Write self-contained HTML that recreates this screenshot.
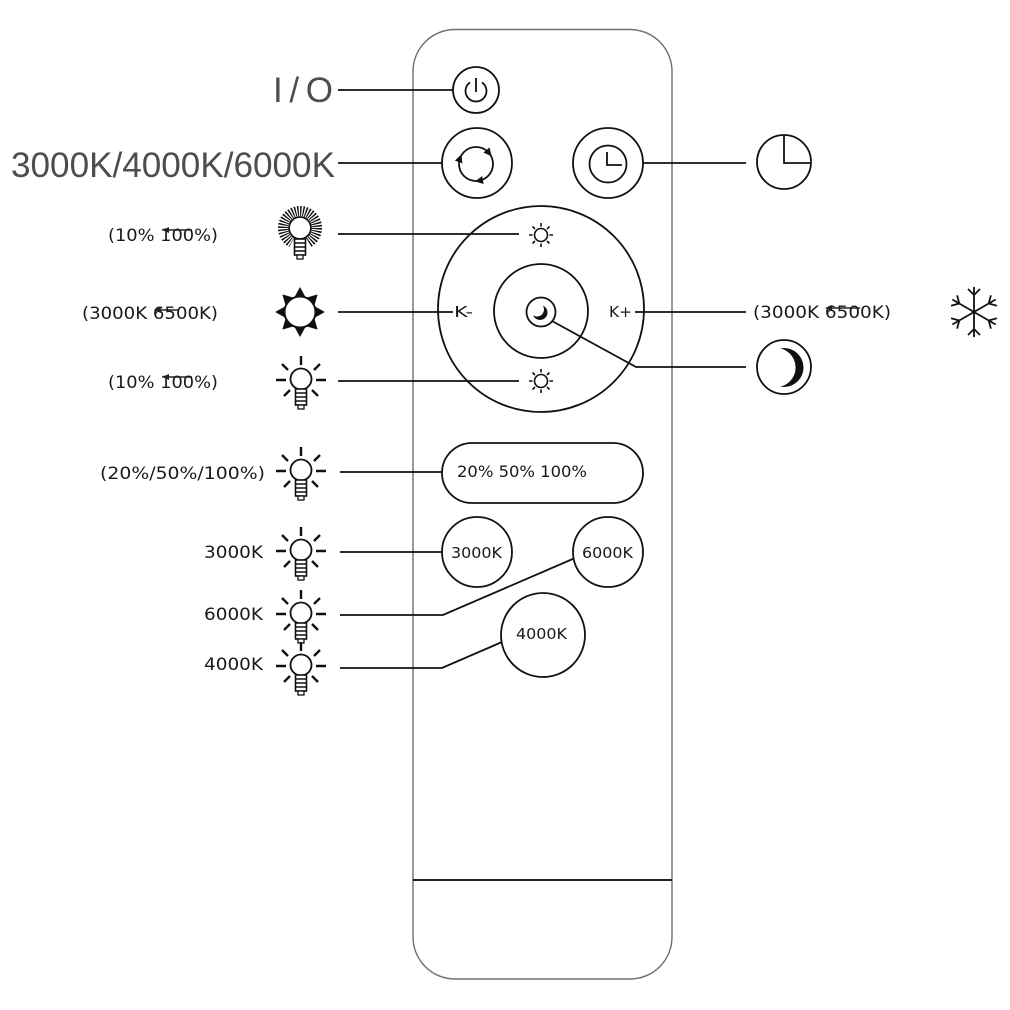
<!DOCTYPE html>
<html><head><meta charset="utf-8"><style>html,body{margin:0;padding:0;background:#fff}svg{display:block}</style></head>
<body>
<svg width="1010" height="1010" viewBox="0 0 1010 1010" xmlns="http://www.w3.org/2000/svg">
<defs>
  <g id="bulb">
    <circle r="10.5" fill="#fff" stroke="#111" stroke-width="1.8"/>
    <path d="M0,-23V-14 M-25,1H-15 M15,1H25 M-19,-15L-13,-9 M13,-9L19,-15 M-17,17L-11,11 M11,11L17,17" stroke="#111" stroke-width="2.4" fill="none"/>
    <rect x="-5.5" y="10" width="11" height="16" fill="#fff" stroke="#111" stroke-width="1.6"/>
    <path d="M-5.5,14H5.5 M-5.5,18H5.5 M-5.5,22H5.5" stroke="#111" stroke-width="1.4"/>
    <rect x="-3" y="26" width="6" height="4" fill="#fff" stroke="#111" stroke-width="1.3"/>
  </g>
  <g id="sunsm">
    <circle r="6.5" fill="none" stroke="#111" stroke-width="1.6"/>
    <path d="M8.5,0H12 M-8.5,0H-12 M0,8.5V12 M0,-8.5V-12 M6,6L8.5,8.5 M-6,6L-8.5,8.5 M6,-6L8.5,-8.5 M-6,-6L-8.5,-8.5" stroke="#111" stroke-width="1.6"/>
  </g>
  <polygon id="tri" points="0,-25 -6,-14 6,-14" fill="#111"/>
  <polygon id="ah" points="13,-4 21,-4 17,4" fill="#111"/>
  <g id="arm">
    <path d="M0,0V-25 M0,-17L-6,-23 M0,-17L6,-23" stroke="#111" stroke-width="1.8" fill="none"/>
  </g>
</defs>
<rect width="1010" height="1010" fill="#fff"/>

<!-- remote body -->
<rect x="413" y="29.5" width="259" height="949.5" rx="42" fill="none" stroke="#6e6e6e" stroke-width="1.4"/>
<line x1="413" y1="880" x2="672" y2="880" stroke="#222" stroke-width="2"/>

<!-- connectors -->
<path d="M338 90H453 M338 163H442 M643 163H746 M338 234H519 M338 312H453 M635 312H746 M552 321L636 367H746 M338 381H519 M340 472H442 M340 552H442 M340 615H443L575 558 M340 668H442L502 642" fill="none" stroke="#111" stroke-width="1.8"/>

<!-- buttons -->
<g fill="none" stroke="#111" stroke-width="1.8">
  <circle cx="476" cy="90" r="23"/>
  <circle cx="477" cy="163" r="35"/>
  <circle cx="608" cy="163" r="35"/>
  <circle cx="541" cy="309" r="103"/>
  <circle cx="541" cy="311" r="47"/>
  <rect x="442" y="443" width="201" height="60" rx="30" fill="#fff"/>
  <circle cx="477" cy="552" r="35" fill="#fff"/>
  <circle cx="608" cy="552" r="35" fill="#fff"/>
  <circle cx="543" cy="635" r="42" fill="#fff"/>
</g>

<!-- power icon -->
<path d="M470,82.4 A10.5,10.5 0 1 0 482,82.4" fill="none" stroke="#111" stroke-width="1.8"/>
<line x1="476" y1="78" x2="476" y2="92" stroke="#111" stroke-width="1.8"/>

<!-- cycle icon -->
<g transform="translate(476,164)">
  <circle r="17" fill="none" stroke="#111" stroke-width="1.8"/>
  <use href="#ah" transform="rotate(80)"/>
  <use href="#ah" transform="rotate(200)"/>
  <use href="#ah" transform="rotate(320)"/>
</g>

<!-- timer button icon -->
<circle cx="608" cy="164" r="18.5" fill="none" stroke="#111" stroke-width="1.8"/>
<path d="M607,152V165H622" fill="none" stroke="#111" stroke-width="1.8"/>

<!-- right clock -->
<circle cx="784" cy="162" r="27" fill="none" stroke="#111" stroke-width="1.8"/>
<path d="M784,135V163H810" fill="none" stroke="#111" stroke-width="1.8"/>

<!-- sun icons in big circle -->
<use href="#sunsm" x="541" y="235"/>
<use href="#sunsm" x="541" y="381"/>

<!-- small moon button -->
<circle cx="540" cy="312.5" r="7.5" fill="#111"/>
<circle cx="537" cy="309.5" r="7" fill="#fff"/>
<circle cx="541" cy="312" r="14.5" fill="none" stroke="#111" stroke-width="1.8"/>

<!-- big moon -->
<circle cx="784" cy="367.5" r="19.5" fill="#111"/>
<circle cx="776" cy="367.5" r="19.6" fill="#fff"/>
<circle cx="784" cy="367" r="27" fill="none" stroke="#111" stroke-width="1.8"/>

<!-- snowflake -->
<g transform="translate(974,312)">
  <use href="#arm"/>
  <use href="#arm" transform="rotate(60)"/>
  <use href="#arm" transform="rotate(120)"/>
  <use href="#arm" transform="rotate(180)"/>
  <use href="#arm" transform="rotate(240)"/>
  <use href="#arm" transform="rotate(300)"/>
</g>

<!-- rays bulb -->
<g transform="translate(300,228)">
  <circle r="17" fill="none" stroke="#111" stroke-width="10" stroke-dasharray="1.35 1.32"/>
  <polygon points="0,0 -15,26 15,26" fill="#fff"/>
  <circle r="11" fill="#fff" stroke="#111" stroke-width="1.8"/>
  <rect x="-5.5" y="11" width="11" height="16" fill="#fff" stroke="#111" stroke-width="1.6"/>
  <path d="M-5.5,15H5.5 M-5.5,19H5.5 M-5.5,23H5.5" stroke="#111" stroke-width="1.4"/>
  <rect x="-3" y="27" width="6" height="4" fill="#fff" stroke="#111" stroke-width="1.3"/>
</g>

<!-- star sun -->
<g transform="translate(300,312)">
  <use href="#tri"/>
  <use href="#tri" transform="rotate(45)"/>
  <use href="#tri" transform="rotate(90)"/>
  <use href="#tri" transform="rotate(135)"/>
  <use href="#tri" transform="rotate(180)"/>
  <use href="#tri" transform="rotate(225)"/>
  <use href="#tri" transform="rotate(270)"/>
  <use href="#tri" transform="rotate(315)"/>
  <circle r="15.5" fill="#fff" stroke="#111" stroke-width="2"/>
</g>

<!-- bulbs -->
<use href="#bulb" x="301" y="379"/>
<use href="#bulb" x="301" y="470"/>
<use href="#bulb" x="301" y="550"/>
<use href="#bulb" x="301" y="613"/>
<use href="#bulb" x="301" y="665"/>

<!-- big labels -->
<g font-family="'Liberation Sans', sans-serif" font-size="35" fill="#4d4d4d">
  <text x="273" y="102" textLength="60" lengthAdjust="spacing">I/O</text>
  <text x="11" y="177" textLength="324" lengthAdjust="spacingAndGlyphs">3000K/4000K/6000K</text>
</g>

<!-- small labels -->
<g font-family="'DejaVu Sans', 'Liberation Sans', sans-serif" font-size="17" fill="#1a1a1a">
  <text x="108" y="241" textLength="110" lengthAdjust="spacingAndGlyphs">(10% 100%)</text>
  <text x="82" y="319" textLength="136" lengthAdjust="spacingAndGlyphs">(3000K 6500K)</text>
  <text x="108" y="388" textLength="110" lengthAdjust="spacingAndGlyphs">(10% 100%)</text>
  <text x="100" y="479" textLength="165" lengthAdjust="spacingAndGlyphs">(20%/50%/100%)</text>
  <text x="204" y="558" textLength="59" lengthAdjust="spacingAndGlyphs">3000K</text>
  <text x="204" y="620" textLength="59" lengthAdjust="spacingAndGlyphs">6000K</text>
  <text x="204" y="670" textLength="59" lengthAdjust="spacingAndGlyphs">4000K</text>
  <text x="753" y="318" textLength="138" lengthAdjust="spacingAndGlyphs">(3000K 6500K)</text>
  <text x="457" y="477" textLength="130" lengthAdjust="spacingAndGlyphs" font-size="16">20% 50% 100%</text>
  <text x="451" y="558" textLength="51" lengthAdjust="spacingAndGlyphs" font-size="15">3000K</text>
  <text x="582" y="558" textLength="51" lengthAdjust="spacingAndGlyphs" font-size="15">6000K</text>
  <text x="516" y="639" textLength="51" lengthAdjust="spacingAndGlyphs" font-size="15">4000K</text>
  <text x="454" y="317" textLength="19" lengthAdjust="spacingAndGlyphs" font-size="15">K-</text>
  <text x="609" y="317" textLength="23" lengthAdjust="spacingAndGlyphs" font-size="15">K+</text>
</g>

<!-- strike arrows over labels -->
<g stroke="#222" stroke-width="1.4" fill="#222">
  <line x1="166" y1="230" x2="192" y2="230"/>
  <polygon points="162,230 169,227 169,233" stroke="none"/>
  <line x1="158" y1="310" x2="178" y2="310"/>
  <polygon points="154,310 161,307 161,313" stroke="none"/>
  <line x1="166" y1="377" x2="192" y2="377"/>
  <polygon points="162,377 169,374 169,380" stroke="none"/>
  <line x1="829" y1="308" x2="860" y2="308"/>
  <polygon points="825,308 832,305 832,311" stroke="none"/>
</g>
</svg>
</body></html>
